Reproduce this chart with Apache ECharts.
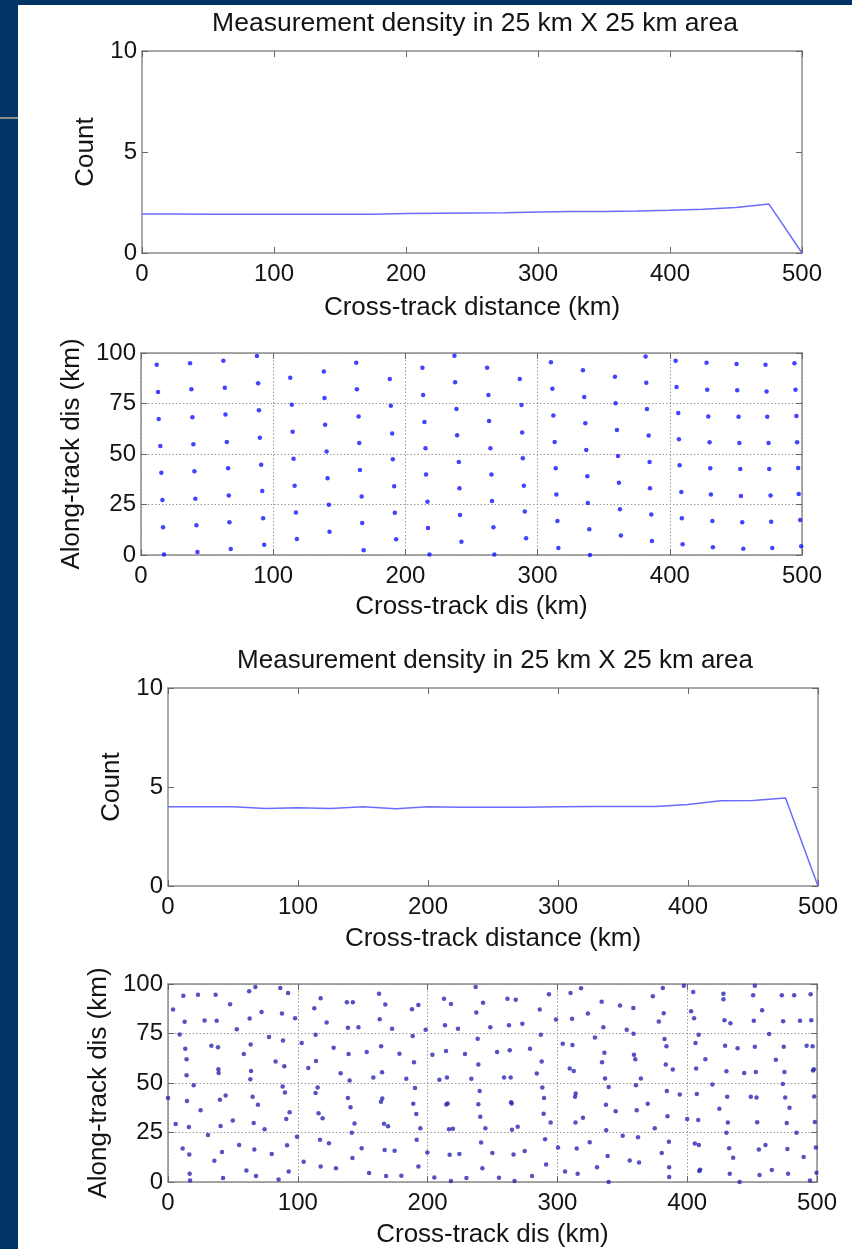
<!DOCTYPE html>
<html><head><meta charset="utf-8">
<script src="https://cdn.jsdelivr.net/npm/echarts@6/dist/echarts.min.js"></script>
<style>
html,body{margin:0;padding:0;background:#003366;overflow:hidden;}
#panel{position:absolute;left:18px;top:5px;width:834px;height:1244px;background:#fff;}
#rule{position:absolute;left:0;top:117px;width:18px;height:2px;background:#8c8c8c;}
#c{position:absolute;left:0;top:0;width:852px;height:1249px;}
</style>
</head><body><div id="panel"></div><div id="rule"></div><div id="c"></div>
<script>
// ---- data ----
const titleText = 'Measurement density in 25 km X 25 km area';
const xTickValues = [0, 100, 200, 300, 400, 500];
const countTickValues = [0, 5, 10];
const alongTickValues = [0, 25, 50, 75, 100];

const crossTrackKm = [0,25,50,75,100,125,150,175,200,225,250,275,300,325,350,375,400,425,450,475,500];
const countTop = [1.93,1.93,1.92,1.92,1.92,1.92,1.92,1.92,1.95,1.97,1.98,1.99,2.03,2.05,2.06,2.08,2.12,2.17,2.25,2.42,0];
const countBottom = [4.0,4.0,4.0,3.92,3.95,3.92,4.0,3.9,4.0,3.98,3.98,3.98,4.0,4.02,4.02,4.02,4.12,4.3,4.32,4.45,0];

const samplesTop = [
[11.9,94.2],[12.9,80.7],[13.4,67.3],[14.6,54.0],[15.4,40.7],[16.2,27.2],[16.7,13.7],[17.4,0.3],
[37.1,94.9],[38.1,82.0],[38.9,68.2],[39.6,54.8],[40.4,41.4],[41.1,27.9],[41.9,14.7],[42.7,1.5],
[62.3,96.2],[63.4,82.8],[63.9,69.5],[64.9,55.9],[65.9,42.9],[66.4,29.5],[66.9,16.2],[67.9,3.0],
[87.7,98.5],[88.6,85.0],[89.2,71.6],[89.9,58.1],[90.9,44.7],[91.7,31.7],[92.4,18.2],[93.2,5.1],
[112.9,87.8],[114.1,74.4],[114.7,61.0],[115.4,47.7],[116.2,34.3],[117.2,21.1],[117.9,7.9],
[138.3,90.9],[138.8,77.7],[139.3,64.5],[140.4,51.2],[141.1,38.0],[142.1,24.9],[142.6,11.5],
[162.8,95.2],[163.3,82.0],[164.6,68.6],[165.1,55.4],[165.6,42.1],[166.9,28.9],[167.3,15.8],[168.4,2.3],
[188.2,87.1],[189.0,73.9],[190.0,60.2],[190.5,47.4],[191.5,34.0],[192.0,20.9],[193.0,7.8],
[212.9,92.7],[213.4,79.2],[214.4,65.8],[215.2,52.8],[215.6,39.8],[216.7,26.4],[217.1,13.4],[218.2,0.2],
[237.1,98.7],[237.6,85.5],[238.6,72.3],[239.1,59.3],[240.4,46.0],[240.9,33.0],[241.3,19.8],[242.4,6.6],
[261.8,92.7],[262.8,79.2],[263.3,66.3],[264.3,52.8],[265.1,39.9],[265.5,26.7],[266.6,13.7],[267.3,0.3],
[286.5,87.1],[287.8,74.3],[288.3,60.6],[288.8,47.9],[289.6,34.3],[290.3,21.5],[291.3,8.3],
[310.1,95.4],[311.2,82.3],[311.9,69.1],[312.9,55.9],[313.7,42.9],[314.2,29.9],[315.0,16.8],[315.7,3.5],
[334.3,91.4],[335.3,78.2],[336.1,65.2],[336.8,52.0],[337.6,39.0],[338.0,25.7],[339.1,12.7],[339.6,0.0],
[358.5,88.3],[359.0,75.1],[360.0,61.9],[360.8,49.0],[361.5,35.8],[362.3,22.6],[363.0,9.6],
[381.7,98.3],[382.2,85.3],[382.7,72.3],[384.0,59.1],[384.7,46.0],[385.0,33.0],[386.0,20.1],[386.5,6.9],
[404.4,96.2],[405.1,83.2],[406.4,70.3],[406.9,57.3],[407.4,44.4],[408.7,31.2],[409.1,18.2],[409.7,5.3],
[427.8,95.2],[428.3,81.8],[429.1,68.6],[430.1,55.8],[430.6,42.9],[431.1,30.0],[432.2,16.8],[432.6,3.8],
[450.5,94.6],[451.0,81.5],[452.0,68.5],[452.6,55.4],[453.3,42.6],[453.8,29.2],[454.8,16.2],[455.6,3.1],
[472.4,94.2],[473.2,81.0],[473.7,68.5],[474.7,55.4],[475.2,42.6],[476.2,29.4],[476.7,16.5],[477.5,3.5],
[494.3,94.9],[495.1,81.8],[495.8,68.8],[496.3,55.8],[497.1,43.1],[497.5,30.2],[498.6,17.3],[499.4,4.3]
];

const samplesBottom = [
[0.0,42.4],[3.9,87.1],[9.0,74.5],[11.8,94.1],[12.8,80.9],[13.3,67.3],[14.3,62.0],[14.3,53.9],[14.6,40.9],[16.1,27.8],
[11.3,16.9],[16.4,13.9],[16.7,4.2],[17.0,0.7],[5.9,29.3],[19.8,48.9],[23.1,94.6],[25.1,36.3],[28.2,81.6],[30.8,23.8],
[33.4,68.8],[35.7,10.7],[36.7,94.6],[37.5,81.4],[38.5,68.0],[38.8,56.9],[39.0,55.1],[40.0,41.5],[40.5,28.3],[41.6,15.1],
[42.4,2.0],[44.4,43.7],[47.8,89.8],[49.9,31.0],[53.0,77.2],[54.8,18.7],[58.4,64.6],[60.4,5.8],[62.5,96.3],[62.9,82.6],
[63.7,69.5],[64.0,56.1],[63.4,51.9],[65.2,43.0],[66.0,29.8],[66.5,16.4],[67.3,98.5],[67.8,3.0],[69.3,39.0],[72.1,85.9],
[74.4,26.6],[77.8,73.2],[79.9,14.1],[82.9,60.8],[85.2,1.3],[86.5,98.0],[87.8,85.1],[88.6,71.5],[89.6,58.4],[88.3,48.2],
[90.1,45.2],[91.1,31.8],[93.7,35.2],[91.7,18.6],[92.5,95.5],[93.0,5.3],[97.9,82.7],[99.4,22.8],[103.0,70.2],[104.5,10.2],
[108.1,57.6],[112.7,87.7],[113.7,74.4],[114.0,61.1],[113.7,44.9],[115.3,47.7],[116.0,34.7],[117.1,21.4],[117.6,92.8],[119.1,32.2],
[117.6,7.8],[122.2,80.6],[124.0,19.6],[127.6,67.8],[129.4,7.0],[133.0,54.9],[137.8,90.8],[142.4,90.8],[138.6,77.9],[139.1,64.6],
[139.9,51.3],[138.6,42.4],[140.6,37.8],[141.6,24.9],[143.7,29.6],[142.1,12.1],[146.7,78.2],
[153.1,65.6],[158.2,52.8],[149.2,17.1],[154.9,4.5],[162.6,95.1],[167.4,89.7],[163.1,82.2],[172.6,77.4],[164.2,68.6],[164.9,55.4],
[164.1,40.5],[165.1,42.2],[166.4,29.4],[169.5,28.1],[166.9,16.1],[174.6,15.8],[168.0,3.0],[179.8,3.2],[178.3,64.8],[183.6,52.1],
[188.0,87.2],[192.9,89.4],[188.5,73.7],[189.5,60.5],[190.3,47.5],[189.0,39.5],[191.3,34.3],[194.4,27.1],[191.6,21.3],[192.9,7.8],
[198.5,76.9],[199.8,14.9],[203.7,64.3],[209.1,51.6],[205.2,2.3],[212.6,92.6],[213.4,79.2],[214.2,66.1],[214.9,52.8],[214.4,39.2],
[215.5,39.7],[216.5,26.6],[219.5,26.9],[217.0,13.7],[218.0,89.9],[218.0,0.5],[223.4,77.4],[224.5,14.2],[228.8,64.6],[229.9,2.0],
[233.7,52.1],[237.0,98.5],[237.5,85.6],[238.6,72.4],[239.1,59.3],[240.1,45.9],[239.1,39.3],[240.6,33.0],[241.2,19.9],[242.2,7.0],
[242.7,90.5],[244.5,27.1],[248.3,78.2],[249.9,14.7],[253.5,65.6],[255.0,2.2],[258.9,52.8],[261.5,92.5],[267.9,92.1],[262.7,79.2],
[263.3,66.5],[264.0,52.8],[264.3,40.3],[264.8,39.6],[265.0,26.4],[269.4,27.9],[266.2,13.9],[267.0,0.5],
[273.0,79.9],[274.8,15.6],[278.9,67.3],[280.5,3.0],[284.1,54.8],[286.4,87.1],[287.2,74.4],[287.9,60.8],[288.4,47.7],[289.7,42.4],
[289.4,34.5],[290.5,21.6],[291.3,8.8],[293.5,94.8],[294.8,30.0],[298.9,82.1],[300.5,17.4],[304.1,69.8],[305.9,5.3],[309.5,57.3],
[312.6,56.1],[310.1,95.5],[311.3,82.4],[311.6,69.2],[313.6,43.0],[314.1,44.7],[313.9,30.0],[314.9,16.9],[315.6,4.2],[318.2,97.8],
[319.7,32.5],[323.5,85.1],[324.9,20.1],[328.9,73.0],[330.5,7.5],[334.1,91.0],[335.4,78.2],[336.2,65.3],[334.4,60.5],[336.7,52.3],
[339.5,48.0],[337.4,39.0],[337.6,26.1],[338.7,13.1],[339.5,0.0],[344.9,35.7],[348.2,89.2],[350.3,23.4],[353.4,76.9],[355.7,10.9],
[358.5,87.9],[358.7,74.9],[359.0,64.3],[360.0,62.0],[360.5,48.9],[364.3,52.3],[361.1,36.2],[362.1,22.6],[362.9,9.8],[369.6,39.5],
[373.5,93.8],[375.0,27.1],[378.1,81.1],[380.4,14.6],[381.2,98.0],[381.9,85.2],[382.5,72.2],[383.5,59.3],[384.0,68.6],[384.3,46.0],
[384.8,33.2],[385.9,20.3],[386.1,7.4],[386.1,2.5],[388.9,56.8],[394.3,44.2],[397.4,99.1],[400.0,31.8],[403.0,86.2],[404.6,96.0],
[405.3,82.7],[406.4,70.2],[406.9,57.3],[407.4,44.4],[408.5,31.3],[405.9,19.4],[409.0,18.7],[410.0,6.2],[409.3,5.5],[408.8,74.4],
[414.0,62.0],[419.4,49.2],[424.8,37.0],[427.9,95.1],[427.9,92.3],[428.7,81.7],[429.2,68.8],[430.2,55.9],[430.8,43.0],[431.3,30.0],
[430.2,24.9],[432.3,17.1],[432.8,4.2],[433.3,80.2],[435.4,12.2],[438.8,67.6],[440.4,0.0],[443.9,55.1],[449.0,43.0],[450.8,94.3],
[451.3,81.4],[452.1,68.3],[452.9,55.6],[453.4,42.7],[453.9,30.2],[455.2,16.4],[455.7,3.5],[452.1,99.1],[457.7,86.7],[460.3,18.7],
[463.1,74.7],[465.2,6.0],[468.3,61.8],[472.9,94.3],[482.4,94.3],[473.9,81.2],[474.4,68.3],[474.9,55.6],[473.7,49.5],[475.5,42.7],
[478.8,37.5],[476.7,29.8],[477.2,16.7],[477.7,4.2],[484.2,24.9],[486.9,81.4],[489.7,12.6],[492.0,68.8],[496.6,68.6],[495.1,94.8],
[495.6,81.7],[496.9,56.3],[497.6,56.9],[497.8,43.2],[498.3,30.3],[499.1,17.4],[499.6,4.7],[494.6,0.7]
];

// ---- chart ----
const FONT = '"Liberation Sans", Arial, sans-serif';
const AXIS_COLOR = '#8c8c8c';
const TEXT_COLOR = '#141414';

const grids = [
  {left:142, top:51, width:660, height:202},
  {left:141, top:353, width:661, height:202},
  {left:168, top:688, width:650, height:198},
  {left:168, top:984, width:649, height:199}
];
const panels = [
  {xName:'Cross-track distance (km)', yName:'Count', yTicks:countTickValues, dotted:false, xGap:42, yGap:43},
  {xName:'Cross-track dis (km)', yName:'Along-track dis (km)', yTicks:alongTickValues, dotted:true, xGap:39, yGap:55},
  {xName:'Cross-track distance (km)', yName:'Count', yTicks:countTickValues, dotted:false, xGap:40, yGap:43},
  {xName:'Cross-track dis (km)', yName:'Along-track dis (km)', yTicks:alongTickValues, dotted:true, xGap:40, yGap:52}
];

const xAxes = [], yAxes = [];
panels.forEach((p, i) => {
  const lineStyle = {color:AXIS_COLOR, width:1.5};
  const tick = {show:true, inside:true, length:6, lineStyle:{color:'#666', width:1}};
  const split = p.dotted ? {show:true, lineStyle:{type:[1.5,2], color:'#9a9a9a', width:1}} : {show:false};
  const xmin = xTickValues[0], xmax = xTickValues[xTickValues.length-1], xint = xTickValues[1]-xTickValues[0];
  const ymin = p.yTicks[0], ymax = p.yTicks[p.yTicks.length-1], yint = p.yTicks[1]-p.yTicks[0];
  xAxes.push({gridIndex:i, type:'value', min:xmin, max:xmax, interval:xint, position:'bottom',
    axisLine:{show:true, onZero:false, lineStyle}, axisTick:tick,
    axisLabel:{color:TEXT_COLOR, fontSize:24, fontFamily:FONT, margin:9},
    splitLine:split, name:p.xName, nameLocation:'middle', nameGap:p.xGap,
    nameTextStyle:{fontSize:26, color:TEXT_COLOR, fontFamily:FONT}});
  xAxes.push({gridIndex:i, type:'value', min:xmin, max:xmax, interval:xint, position:'top',
    axisLine:{show:true, onZero:false, lineStyle}, axisTick:tick, axisLabel:{show:false}, splitLine:{show:false}});
  yAxes.push({gridIndex:i, type:'value', min:ymin, max:ymax, interval:yint, position:'left',
    axisLine:{show:true, onZero:false, lineStyle}, axisTick:tick,
    axisLabel:{color:TEXT_COLOR, fontSize:24, fontFamily:FONT, margin:5},
    splitLine:split, name:p.yName, nameLocation:'middle', nameGap:p.yGap,
    nameTextStyle:{fontSize:26, color:TEXT_COLOR, fontFamily:FONT}});
  yAxes.push({gridIndex:i, type:'value', min:ymin, max:ymax, interval:yint, position:'right',
    axisLine:{show:true, onZero:false, lineStyle}, axisTick:tick, axisLabel:{show:false}, splitLine:{show:false}});
});

const lineColor = '#6b6bff';
const option = {
  animation:false,
  backgroundColor:'transparent',
  title:[
    {text:titleText, left:470, top:5, textAlign:'center', textStyle:{fontSize:26.5, fontWeight:'normal', color:TEXT_COLOR, fontFamily:FONT}},
    {text:titleText, left:490, top:643, textAlign:'center', textStyle:{fontSize:26, fontWeight:'normal', color:TEXT_COLOR, fontFamily:FONT}}
  ],
  grid:grids,
  xAxis:xAxes,
  yAxis:yAxes,
  series:[
    {type:'line', xAxisIndex:0, yAxisIndex:0, showSymbol:false, symbol:'none',
     data:crossTrackKm.map((x,k)=>[x,countTop[k]]), lineStyle:{color:lineColor, width:1.5}},
    {type:'scatter', xAxisIndex:2, yAxisIndex:2, symbolSize:4.5, data:samplesTop, itemStyle:{color:'#1414ff'}},
    {type:'line', xAxisIndex:4, yAxisIndex:4, showSymbol:false, symbol:'none',
     data:crossTrackKm.map((x,k)=>[x,countBottom[k]]), lineStyle:{color:lineColor, width:1.5}},
    {type:'scatter', xAxisIndex:6, yAxisIndex:6, symbolSize:4.5, data:samplesBottom, itemStyle:{color:'#2a26b4'}}
  ]
};
const chart = echarts.init(document.getElementById('c'), null, {renderer:'canvas'});
chart.setOption(option);
</script>
</body></html>
